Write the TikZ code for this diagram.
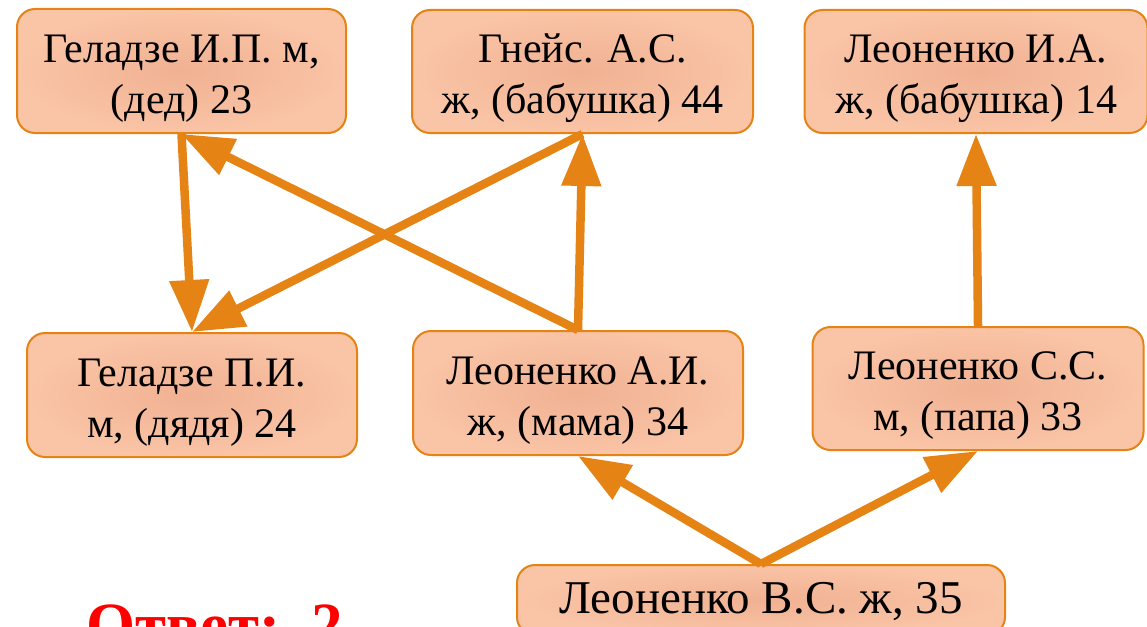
\documentclass[tikz,border=0pt]{standalone}
\usepackage{fontspec}
\setmainfont{Liberation Serif}
\usetikzlibrary{arrows.meta}
\definecolor{orng}{HTML}{E58314}
\definecolor{fillin}{HTML}{F0B192}
\definecolor{fillout}{HTML}{FAC4A6}
\tikzset{
  famnode/.style={draw=orng, line width=2pt, rounded corners=18pt,
    inner color=fillin, outer color=fillout, align=center,
    font=\fontsize{42}{51}\selectfont, inner sep=0pt,
    text height=95pt, text depth=11pt},
  rel/.style={draw=orng, line width=8.5pt, -{Triangle[length=52pt,width=38pt]}},
}
\begin{document}
\begin{tikzpicture}[x=1pt,y=-1pt]
\useasboundingbox (0,0) rectangle (1147,626);
\clip (0,0) rectangle (1147,626);
\node[famnode, minimum width=329pt, minimum height=124pt] (gip) at (181.5,71) {Геладзе И.П. м,\\(дед) 23};
\node[famnode, minimum width=341pt, minimum height=123pt] (gas) at (582.5,71.5) {Гнейс. А.С.\\ж, (бабушка) 44};
\node[famnode, minimum width=343pt, minimum height=123pt] (lia) at (976,71.5) {Леоненко И.А.\\ж, (бабушка) 14};
\node[famnode, minimum width=330pt, minimum height=124pt] (gpi) at (192,395) {Геладзе П.И.\\м, (дядя) 24};
\node[famnode, minimum width=330pt, minimum height=124pt] (lai) at (578,393) {Леоненко А.И.\\ж, (мама) 34};
\node[famnode, minimum width=331pt, minimum height=123pt] (lss) at (978,388.5) {Леоненко С.С.\\м, (папа) 33};
\node[famnode, minimum width=488pt, minimum height=70pt, font=\fontsize{47}{54}\selectfont, text height=40pt, text depth=14pt] (lvs) at (761,600) {Леоненко В.С. ж, 35};
\draw[rel] (gip.south) -- (gpi.north);
\draw[rel] (lai.north) -- (gip.south);
\draw[rel] (gas.south) -- (gpi.north);
\draw[rel] (lai.north) -- (gas.south);
\draw[rel] (lss.north) -- (lia.south);
\draw[rel] (lvs.north) -- (lai.south);
\draw[rel] (lvs.north) -- (lss.south);
\node[anchor=base west, text=red, inner sep=0pt, font=\fontsize{63}{63}\selectfont\bfseries] (otvet) at (86,646) {Ответ:\hspace{31pt}2};
\end{tikzpicture}
\end{document}
